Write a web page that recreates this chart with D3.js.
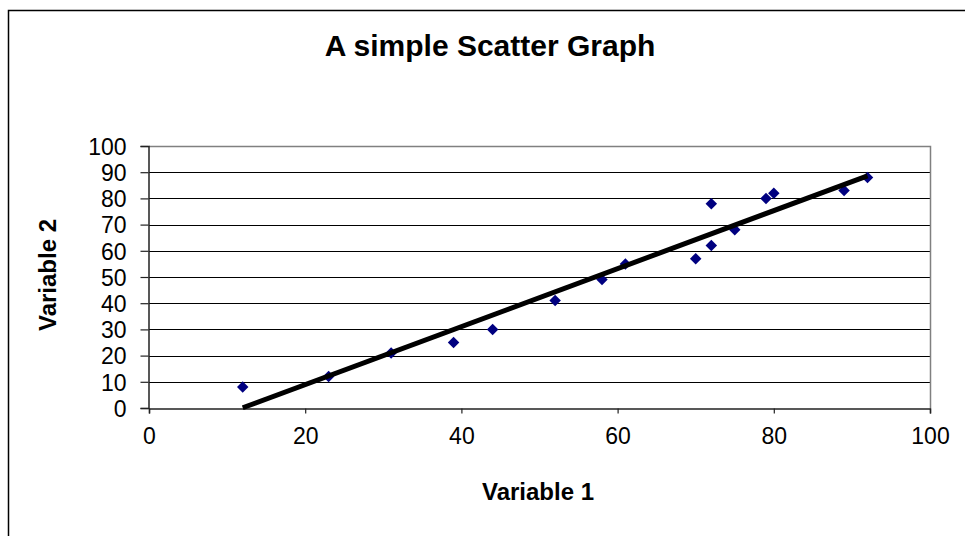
<!DOCTYPE html>
<html>
<head>
<meta charset="utf-8">
<script src="https://cdn.jsdelivr.net/npm/d3@7"></script>
<style>
  body { margin: 0; background: #fff; }
  text { font-family: "Liberation Sans", Arial, sans-serif; fill: #000; }
</style>
</head>
<body>
<div id="chart"></div>
<script>
// values
const var1 = [12, 23, 31, 39, 44, 52, 58, 61, 70, 72, 72, 75, 79, 80, 89, 92];
const var2 = [8, 12, 21, 25, 30, 41, 49, 55, 57, 62, 78, 68, 80, 82, 83, 88];
const xTicks = [0, 20, 40, 60, 80, 100];
const yTicks = [0, 10, 20, 30, 40, 50, 60, 70, 80, 90, 100];

const points = var1.map((x, i) => ({ x: x, y: var2[i] }));

const width = 965, height = 536;
const plot = { left: 149, right: 930, top: 146, bottom: 408 };

const svg = d3.select("#chart")
    .append("svg")
    .attr("width", width)
    .attr("height", height);

// chart frame (right and bottom edges run off the picture)
svg.append("rect")
    .attr("x", 8.5)
    .attr("y", 10.5)
    .attr("width", width + 10)
    .attr("height", height + 10)
    .attr("fill", "none")
    .attr("stroke", "#000")
    .attr("stroke-width", 1.5);

const x = d3.scaleLinear().domain([0, 100]).range([plot.left, plot.right]);
const y = d3.scaleLinear().domain([0, 100]).range([plot.bottom, plot.top]);

// gridlines
svg.append("g")
    .selectAll("line")
    .data(yTicks.filter(d => d > 0 && d < 100))
    .join("line")
    .attr("x1", plot.left)
    .attr("x2", plot.right)
    .attr("y1", d => Math.round(y(d)) + 0.5)
    .attr("y2", d => Math.round(y(d)) + 0.5)
    .attr("stroke", "#000")
    .attr("stroke-width", 1);

// plot border top/right (grey)
svg.append("path")
    .attr("d", `M${plot.left},${plot.top + 0.5}H${plot.right + 0.5}V${plot.bottom}`)
    .attr("fill", "none")
    .attr("stroke", "#808080")
    .attr("stroke-width", 1.5);

// axes
const xAxis = svg.append("g")
    .attr("transform", `translate(0,${plot.bottom + 0.5})`)
    .call(d3.axisBottom(x).tickValues(xTicks).tickSize(5).tickPadding(14));

const yAxis = svg.append("g")
    .attr("transform", `translate(${plot.left - 0.5},0)`)
    .call(d3.axisLeft(y).tickValues(yTicks).tickSize(8).tickPadding(14));

[xAxis, yAxis].forEach(g => {
  g.select(".domain").attr("stroke", "#222").attr("stroke-width", 1.5);
  g.selectAll(".tick line").attr("stroke", "#222").attr("stroke-width", 1.2);
  g.selectAll(".tick text")
      .style("font-family", "'Liberation Sans', Arial, sans-serif")
      .style("font-size", "23px")
      .attr("fill", "#000");
});
yAxis.selectAll(".tick text").attr("dy", "0.36em");

// markers
const diamond = d3.symbol().type(d3.symbolSquare).size(66);
svg.append("g")
    .selectAll("path")
    .data(points)
    .join("path")
    .attr("d", diamond)
    .attr("transform", d => `translate(${x(d.x)},${y(d.y)}) rotate(45)`)
    .attr("fill", "#000080");

// linear trendline (least squares)
const mx = d3.mean(points, d => d.x);
const my = d3.mean(points, d => d.y);
const slope = d3.sum(points, d => (d.x - mx) * (d.y - my)) / d3.sum(points, d => (d.x - mx) ** 2);
const intercept = my - slope * mx;
const ext = d3.extent(var1);
const trend = ext.map(v => ({ x: v, y: slope * v + intercept }));

svg.append("path")
    .datum(trend)
    .attr("d", d3.line().x(d => x(d.x)).y(d => y(Math.max(0, d.y))))
    .attr("stroke", "#000")
    .attr("stroke-width", 5)
    .attr("fill", "none");

// titles
svg.append("text")
    .attr("x", 490)
    .attr("y", 56)
    .attr("text-anchor", "middle")
    .style("font-size", "30px")
    .style("font-weight", "bold")
    .text("A simple Scatter Graph");

svg.append("text")
    .attr("x", 538)
    .attr("y", 500)
    .attr("text-anchor", "middle")
    .style("font-size", "24px")
    .style("font-weight", "bold")
    .text("Variable 1");

svg.append("text")
    .attr("transform", "translate(56,275) rotate(-90)")
    .attr("text-anchor", "middle")
    .style("font-size", "24px")
    .style("font-weight", "bold")
    .text("Variable 2");
</script>
</body>
</html>
